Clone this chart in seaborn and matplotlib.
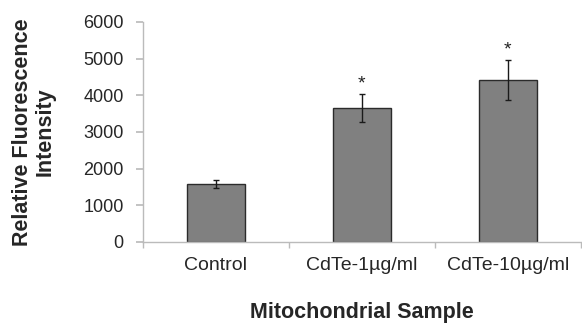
import numpy as np
import matplotlib
matplotlib.use("Agg")
import matplotlib.pyplot as plt
import seaborn as sns

samples = ["Control", "CdTe-1\u00b5g/ml", "CdTe-10\u00b5g/ml"]
intensity = [1580, 3650, 4420]
errors = [115, 380, 540]
significant = [False, True, True]

sns.set_theme(style="white")
plt.rcParams["font.family"] = ["Liberation Sans", "DejaVu Sans"]

fig = plt.figure(figsize=(5.82, 3.27), dpi=100)
ax = fig.add_axes([0.2457, 0.26, 0.752, 0.673])

sns.barplot(x=samples, y=intensity, color="#808080", width=0.4,
            edgecolor="#2b2b2b", linewidth=1.0, saturation=1, ax=ax)
ax.errorbar(np.arange(len(samples)), intensity, yerr=errors, fmt="none",
            ecolor="#1a1a1a", elinewidth=1.0, capsize=2.5, capthick=1.0)

# significance markers above the error bars
for i, (v, e, s) in enumerate(zip(intensity, errors, significant)):
    if s:
        ax.text(i, v + e + 160, "*", ha="center", va="baseline", fontsize=14,
                color="#222222")

ax.set_xlim(-0.5, 2.5)
ax.set_ylim(0, 6000)
ax.set_yticks(np.arange(0, 6001, 1000))
ax.tick_params(axis="y", labelsize=13, length=5, color="#bbbbbb",
               direction="out", left=True, pad=9)
ax.tick_params(axis="x", which="major", labelsize=14, length=0, pad=11)
ax.set_xticks([-0.5, 0.5, 1.5, 2.5], minor=True)
ax.tick_params(axis="x", which="minor", length=4, color="#bbbbbb",
               direction="out", bottom=True)

for side in ["top", "right"]:
    ax.spines[side].set_visible(False)
for side in ["left", "bottom"]:
    ax.spines[side].set_color("#bbbbbb")
    ax.spines[side].set_linewidth(1.0)

ax.set_xlabel("Mitochondrial Sample", fontsize=15.5, fontweight="bold",
              labelpad=20)
ax.set_ylabel("Relative Fluorescence\nIntensity", fontsize=15.5,
              fontweight="bold", labelpad=20, linespacing=1.1)

fig.savefig("out.png", dpi=100, facecolor="white")
